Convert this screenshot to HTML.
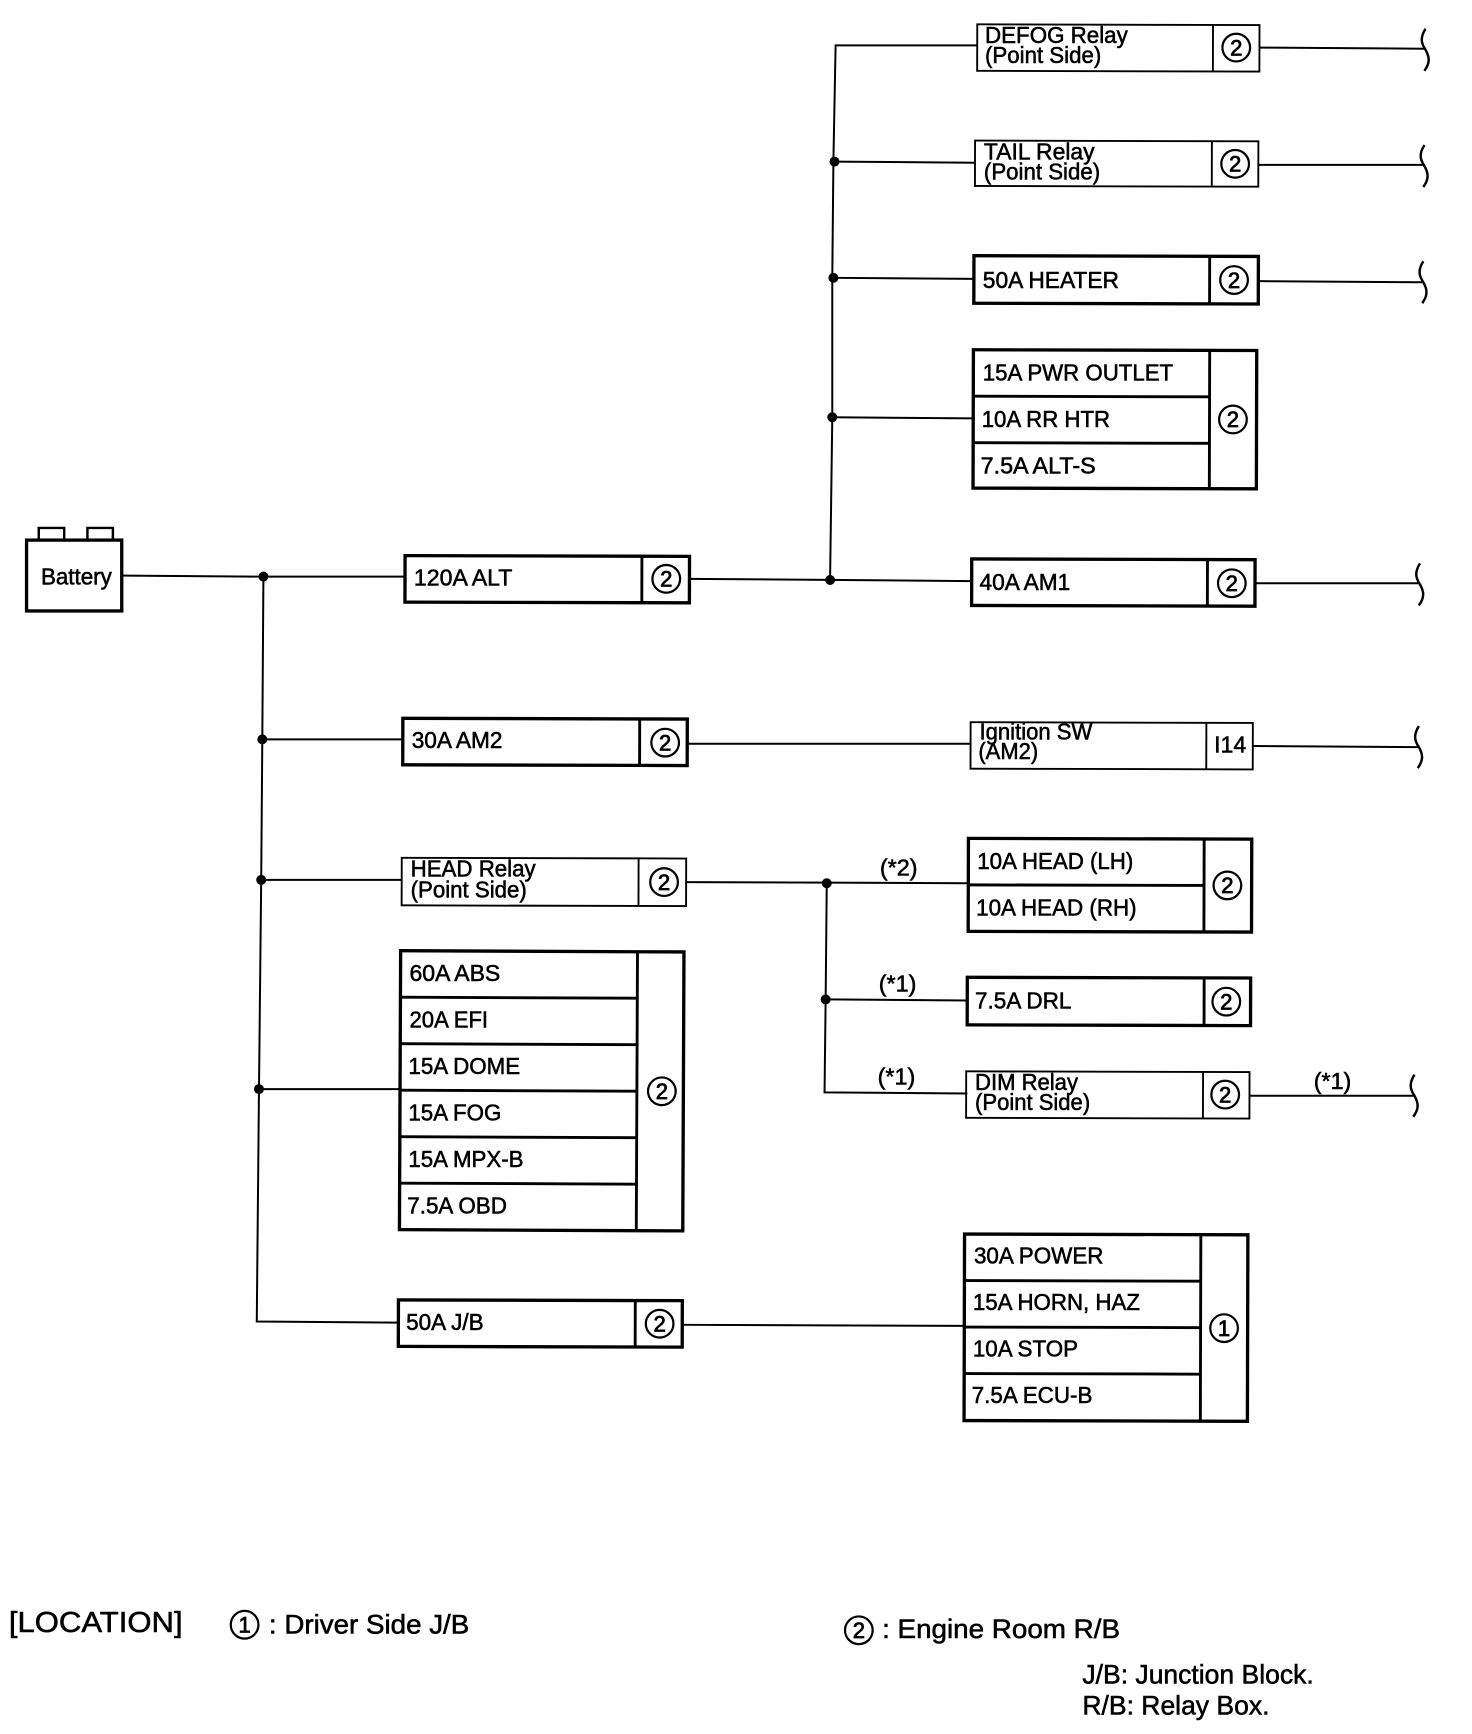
<!DOCTYPE html>
<html><head><meta charset="utf-8"><title>Power source diagram</title>
<style>
html,body{margin:0;padding:0;background:#fff}
svg{display:block}
text{font-family:"Liberation Sans",sans-serif;font-size:20.5px;fill:#000;stroke:#000;stroke-width:.5;}
.b rect,.b path{fill:none;stroke:#000}
.n{font-size:20px;text-anchor:middle;stroke-width:.7}
.t rect{stroke-width:1.7}.t path{stroke-width:1.7}
.k rect{stroke-width:3}.k path{stroke-width:2.6}
.w path{fill:none;stroke:#000;stroke-width:1.8}
circle.c{fill:none;stroke:#000;stroke-width:2}
circle.d{fill:#000;stroke:none}
</style></head><body>
<svg xmlns="http://www.w3.org/2000/svg" width="1472" height="1734" viewBox="0 0 1330 1566.7">
<rect x="0" y="0" width="1330" height="1567" fill="#fff"/>
<defs><path id="br" d="M3,-19 C-2,-11 -1,-6 3,0 C7,7 7,12 2,19" fill="none" stroke="#000" stroke-width="2.2"/></defs>

<!-- wires -->
<g class="w">
<path d="M110,520 L238,521 L366,521"/>
<path d="M238,521 L237,668 L236,795 L234,984 L232,1194 L360,1195"/>
<path d="M237,668 L364,668"/><path d="M236,795 L363,795"/><path d="M234,984 L362,984"/>
<path d="M623,523 L878,525"/>
<path d="M883,41 L755,41 L753,146 L752,251 L752,377 L750,524"/>
<path d="M753,146 L881,147"/><path d="M752,251 L880,252"/><path d="M752,377 L880,378"/>
<path d="M1138,43 L1287,44"/><path d="M1137,149 L1286,149"/><path d="M1137,254 L1285,255"/><path d="M1133,527 L1282,527"/>
<path d="M621,672 L877,672"/><path d="M1132,674 L1281,675"/>
<path d="M620,797 L875,798"/><path d="M747,798 L746,903 L745,987 L874,988"/><path d="M746,903 L874,904"/>
<path d="M1129,990 L1278,990"/>
<path d="M617,1197 L872,1198"/>
</g>
<circle class="d" cx="238" cy="521" r="4.5"/><circle class="d" cx="237" cy="668" r="4.5"/><circle class="d" cx="236" cy="795" r="4.5"/><circle class="d" cx="234" cy="984" r="4.5"/>
<circle class="d" cx="754" cy="146" r="4.5"/><circle class="d" cx="753" cy="251" r="4.5"/><circle class="d" cx="752" cy="377" r="4.5"/><circle class="d" cx="750" cy="524" r="4.5"/>
<circle class="d" cx="747" cy="798" r="4.5"/><circle class="d" cx="746" cy="903" r="4.5"/>
<use href="#br" x="1285" y="45"/><use href="#br" x="1284" y="150"/><use href="#br" x="1283" y="255"/><use href="#br" x="1280" y="528"/><use href="#br" x="1279" y="675"/><use href="#br" x="1275" y="990"/>

<!-- battery -->
<g class="b k"><rect x="24" y="488" width="86" height="64" style="stroke-width:3"/>
<path d="M35,488 V477 H58 V488 M79,488 V477 H102 V488" style="stroke-width:2.2"/></g>
<text x="37" y="528" textLength="64" lengthAdjust="spacingAndGlyphs">Battery</text>

<!-- boxes -->
<g class="b t" transform="rotate(.15 883 22)"><rect x="883" y="22" width="255" height="42"/><path d="M1096,22 V64"/></g>
<circle class="c" cx="1117" cy="43" r="12.5"/><text class="n" x="1117" y="50">2</text>
<text x="890" y="39" textLength="129" lengthAdjust="spacingAndGlyphs">DEFOG Relay</text>
<text x="890" y="57" textLength="105" lengthAdjust="spacingAndGlyphs">(Point Side)</text>

<g class="b t" transform="rotate(.15 881 127)"><rect x="881" y="127" width="256" height="41"/><path d="M1095,127 V168"/></g>
<circle class="c" cx="1116" cy="148" r="12.5"/><text class="n" x="1116" y="155">2</text>
<text x="889" y="144" textLength="100" lengthAdjust="spacingAndGlyphs">TAIL Relay</text>
<text x="889" y="162" textLength="105" lengthAdjust="spacingAndGlyphs">(Point Side)</text>

<g class="b k" transform="rotate(.15 880 231)"><rect x="880" y="231" width="257" height="43"/><path d="M1093,231 V274"/></g>
<circle class="c" cx="1115" cy="253" r="12.5"/><text class="n" x="1115" y="260">2</text>
<text x="888" y="260" textLength="123" lengthAdjust="spacingAndGlyphs">50A HEATER</text>

<g class="b k" transform="rotate(.15 880 316)"><rect x="879.500" y="316" width="256" height="125"/><path d="M1093,316 V441 M880,358 H1093 M880,400 H1093"/></g>
<circle class="c" cx="1114" cy="379" r="12.5"/><text class="n" x="1114" y="386">2</text>
<text x="888" y="344" textLength="172" lengthAdjust="spacingAndGlyphs">15A PWR OUTLET</text>
<text x="887" y="386" textLength="116" lengthAdjust="spacingAndGlyphs">10A RR HTR</text>
<text x="886" y="428" textLength="104" lengthAdjust="spacingAndGlyphs">7.5A ALT-S</text>

<g class="b k" transform="rotate(.15 878 505)"><rect x="878" y="505" width="256" height="42"/><path d="M1091,505 V547"/></g>
<circle class="c" cx="1113" cy="527" r="12.5"/><text class="n" x="1113" y="534">2</text>
<text x="885" y="533" textLength="82" lengthAdjust="spacingAndGlyphs">40A AM1</text>

<g class="b k" transform="rotate(.15 366 502)"><rect x="366" y="502" width="257" height="42"/><path d="M580,502 V544"/></g>
<circle class="c" cx="602" cy="523" r="12.5"/><text class="n" x="602" y="530">2</text>
<text x="374" y="529" textLength="89" lengthAdjust="spacingAndGlyphs">120A ALT</text>

<g class="b k" transform="rotate(.15 364 649)"><rect x="364" y="649" width="257" height="42"/><path d="M578,649 V691"/></g>
<circle class="c" cx="601" cy="671" r="12.5"/><text class="n" x="601" y="678">2</text>
<text x="372" y="676" textLength="82" lengthAdjust="spacingAndGlyphs">30A AM2</text>

<g class="b t" transform="rotate(.15 877 652.500)"><rect x="877" y="652.500" width="255" height="42"/><path d="M1090,652.500 V694.500"/></g>
<text x="1097" y="680" textLength="29" lengthAdjust="spacingAndGlyphs">I14</text>
<text x="885" y="668" textLength="102" lengthAdjust="spacingAndGlyphs">Ignition SW</text>
<text x="884" y="686" textLength="54" lengthAdjust="spacingAndGlyphs">(AM2)</text>

<g class="b t" transform="rotate(.15 363 775)"><rect x="363" y="775" width="257" height="43"/><path d="M577,775 V818"/></g>
<circle class="c" cx="600" cy="797" r="12.5"/><text class="n" x="600" y="804">2</text>
<text x="371" y="792" textLength="113" lengthAdjust="spacingAndGlyphs">HEAD Relay</text>
<text x="371" y="811" textLength="105" lengthAdjust="spacingAndGlyphs">(Point Side)</text>

<g class="b k" transform="rotate(.15 875 758)"><rect x="875" y="757.500" width="256" height="84"/><path d="M1088,758 V842 M875,799.500 H1088"/></g>
<circle class="c" cx="1109" cy="800" r="12.5"/><text class="n" x="1109" y="807">2</text>
<text x="883" y="785" textLength="141" lengthAdjust="spacingAndGlyphs">10A HEAD (LH)</text>
<text x="882" y="827" textLength="145" lengthAdjust="spacingAndGlyphs">10A HEAD (RH)</text>
<text x="795" y="791" textLength="34" lengthAdjust="spacingAndGlyphs">(*2)</text>

<g class="b k" transform="rotate(.15 874 883)"><rect x="874" y="883" width="256" height="43"/><path d="M1088,883 V926"/></g>
<circle class="c" cx="1108" cy="905" r="12.5"/><text class="n" x="1108" y="912">2</text>
<text x="881" y="911" textLength="87" lengthAdjust="spacingAndGlyphs">7.5A DRL</text>
<text x="794" y="896" textLength="34" lengthAdjust="spacingAndGlyphs">(*1)</text>

<g class="b t" transform="rotate(.15 873 968)"><rect x="873" y="968" width="256" height="42"/><path d="M1087,968 V1010"/></g>
<circle class="c" cx="1107" cy="989" r="12.5"/><text class="n" x="1107" y="996">2</text>
<text x="881" y="985" textLength="93" lengthAdjust="spacingAndGlyphs">DIM Relay</text>
<text x="881" y="1003" textLength="104" lengthAdjust="spacingAndGlyphs">(Point Side)</text>
<text x="793" y="980" textLength="34" lengthAdjust="spacingAndGlyphs">(*1)</text>
<text x="1187" y="984" textLength="34" lengthAdjust="spacingAndGlyphs">(*1)</text>

<g class="b k" transform="rotate(.25 362 859)"><rect x="362" y="859" width="256" height="252"/><path d="M576,859 V1111 M362,901 H576 M362,943 H576 M362,985 H576 M362,1027 H576 M362,1069 H576"/></g>
<circle class="c" cx="598" cy="986" r="12.5"/><text class="n" x="598" y="993">2</text>
<text x="370" y="886.500" textLength="82" lengthAdjust="spacingAndGlyphs">60A ABS</text>
<text x="370" y="928.500" textLength="71" lengthAdjust="spacingAndGlyphs">20A EFI</text>
<text x="369" y="970.500" textLength="101" lengthAdjust="spacingAndGlyphs">15A DOME</text>
<text x="369" y="1012.500" textLength="84" lengthAdjust="spacingAndGlyphs">15A FOG</text>
<text x="369" y="1054.500" textLength="104" lengthAdjust="spacingAndGlyphs">15A MPX-B</text>
<text x="368" y="1096.500" textLength="90" lengthAdjust="spacingAndGlyphs">7.5A OBD</text>

<g class="b k" transform="rotate(.15 360 1174.500)"><rect x="360" y="1174.500" width="256.500" height="42"/><path d="M574,1174.500 V1216.500"/></g>
<circle class="c" cx="596" cy="1196" r="12.5"/><text class="n" x="596" y="1203">2</text>
<text x="367" y="1201.500" textLength="70" lengthAdjust="spacingAndGlyphs">50A J/B</text>

<g class="b k" transform="rotate(.15 872 1115)"><rect x="871.500" y="1115" width="256" height="168.500"/><path d="M1085,1115 V1283.500 M872,1157 H1085 M872,1199 H1085 M872,1241 H1085"/></g>
<circle class="c" cx="1106" cy="1200" r="12.5"/><text class="n" x="1106" y="1207">1</text>
<text x="880" y="1141.500" textLength="117" lengthAdjust="spacingAndGlyphs">30A POWER</text>
<text x="879" y="1183.500" textLength="151" lengthAdjust="spacingAndGlyphs">15A HORN, HAZ</text>
<text x="879" y="1225.500" textLength="95" lengthAdjust="spacingAndGlyphs">10A STOP</text>
<text x="878" y="1267.500" textLength="109" lengthAdjust="spacingAndGlyphs">7.5A ECU-B</text>

<!-- legend -->
<text x="8" y="1474.500" textLength="157" lengthAdjust="spacingAndGlyphs" style="font-size:26px">[LOCATION]</text>
<circle class="c" cx="221" cy="1468" r="12.500"/><text class="n" x="221" y="1475">1</text>
<text x="243" y="1476" textLength="181" lengthAdjust="spacingAndGlyphs" style="font-size:24px">: Driver Side J/B</text>
<circle class="c" cx="776" cy="1473" r="12.500"/><text class="n" x="776" y="1480">2</text>
<text x="797" y="1480" textLength="215" lengthAdjust="spacingAndGlyphs" style="font-size:24px">: Engine Room R/B</text>
<text x="978" y="1521" textLength="209" lengthAdjust="spacingAndGlyphs" style="font-size:24px">J/B: Junction Block.</text>
<text x="978" y="1549" textLength="169" lengthAdjust="spacingAndGlyphs" style="font-size:24px">R/B: Relay Box.</text>
</svg>
</body></html>
